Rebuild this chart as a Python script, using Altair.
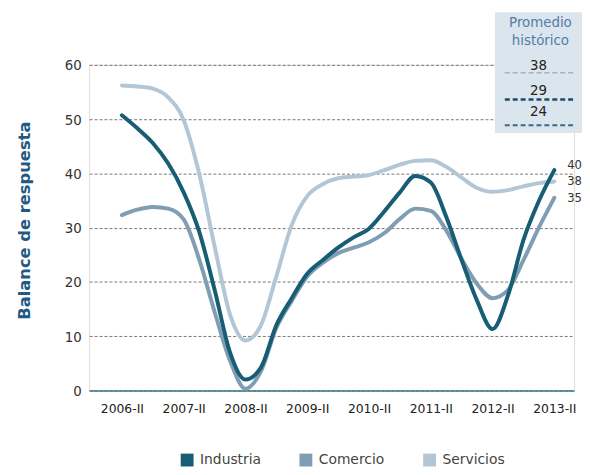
import altair as alt
import pandas as pd

# ---- data ----
series = ["Industria", "Comercio", "Servicios"]
colors = ["#175d73", "#7f9db3", "#b3c6d5"]

# time in years since 2006-II (quarterly steps), tick every year (semester II)
t_years = [0, 0.25, 0.5, 0.75, 1, 1.25, 1.5, 1.75, 2, 2.25, 2.5, 2.75, 3, 3.25, 3.5, 3.75,
           4, 4.25, 4.5, 4.75, 5, 5.25, 5.5, 5.75, 6, 6.25, 6.5, 6.75, 7]
tick_labels = ["2006-II", "2007-II", "2008-II", "2009-II", "2010-II", "2011-II", "2012-II", "2013-II"]

industria = [50.7, 48.3, 45.6, 41.8, 36.5, 29.3, 18.6, 7.0, 2.0, 4.2, 12.0, 17.0, 21.5, 24.0, 26.3, 28.2,
             29.8, 33.0, 36.5, 39.5, 38.3, 32.0, 24.0, 16.5, 11.3, 17.5, 27.7, 34.9, 40.6]
comercio = [32.3, 33.3, 33.8, 33.5, 31.5, 24.2, 14.5, 5.5, 0.3, 3.5, 11.5, 16.5, 21.0, 23.5, 25.3, 26.3,
            27.3, 29.0, 31.6, 33.5, 33.1, 29.5, 24.2, 19.6, 17.0, 18.5, 24.0, 30.0, 35.5]
servicios = [56.2, 56.0, 55.6, 54.0, 49.8, 40.0, 26.6, 14.0, 9.2, 12.0, 21.0, 30.5, 35.8, 38.0, 39.1, 39.4,
             39.7, 40.6, 41.6, 42.3, 42.4, 41.2, 39.2, 37.3, 36.6, 36.9, 37.6, 38.2, 38.5]

end_labels = {"Industria": 40, "Comercio": 35, "Servicios": 38}

avg_title = ["Promedio", "histórico"]
avg_series = ["Servicios", "Industria", "Comercio"]
avg_values = [38, 29, 24]

FONT_C = "DejaVu Sans Condensed, DejaVu Sans, sans-serif"
FONT = "DejaVu Sans, sans-serif"

rows = []
for name, vals in [("Servicios", servicios), ("Comercio", comercio), ("Industria", industria)]:
    for t, v in zip(t_years, vals):
        rows.append({"serie": name, "t": t, "v": v})
df = pd.DataFrame(rows)

end_df = pd.DataFrame([
    {"serie": s, "t": t_years[-1], "v": df[df.serie == s].v.iloc[-1], "label": str(end_labels[s])}
    for s in series
])

label_expr = "[" + ",".join("'" + l + "'" for l in tick_labels) + "][datum.value]"

color_scale = alt.Scale(domain=series, range=colors)

x_enc = alt.X("t:Q", scale=alt.Scale(domain=[-0.53, 7.32], nice=False, zero=False),
              axis=alt.Axis(values=list(range(len(tick_labels))), labelExpr=label_expr, title=None,
                            grid=False, ticks=False, domainColor="#3b7b8e", domainWidth=1.5,
                            labelPadding=12, labelFontSize=12.5, labelFont=FONT, labelColor="#222"))
y_enc = alt.Y("v:Q", scale=alt.Scale(domain=[0, 60], nice=False),
              axis=alt.Axis(values=[0, 10, 20, 30, 40, 50, 60], title="Balance de respuesta",
                            grid=True, gridDash=[3, 2], gridColor="#555", gridWidth=0.8,
                            domain=False, ticks=False, labelPadding=8, labelFontSize=15,
                            labelFont=FONT_C, labelColor="#333", titleFont=FONT,
                            titleFontSize=16.5, titleFontWeight="bold", titleColor="#1f5a85",
                            titlePadding=32, titleY=157))

lines = alt.Chart(df).mark_line(interpolate="monotone", strokeWidth=4, strokeCap="round").encode(
    x=x_enc,
    y=y_enc,
    color=alt.Color("serie:N", scale=color_scale,
                    legend=alt.Legend(title=None, orient="none", legendX=92, legendY=392,
                                      direction="horizontal", symbolType="square", symbolSize=42,
                                      symbolStrokeWidth=6.5, labelFontSize=14, labelFont=FONT,
                                      labelColor="#444", columnPadding=28, labelOffset=6)),
)

end_offsets = {"Industria": -5, "Servicios": 0, "Comercio": 0}
end_layers = [
    alt.Chart(end_df[end_df.serie == s]).mark_text(align="left", baseline="middle", dx=13,
                                                   dy=end_offsets[s], fontSize=13, font=FONT_C,
                                                   color="#333").encode(
        x="t:Q", y="v:Q", text="label:N")
    for s in series
]

avg_df = pd.DataFrame({"serie": avg_series, "v": avg_values})

box = alt.Chart(avg_df.head(1)).mark_rect(color="#dbe5ee").encode(
    x=alt.value(410), x2=alt.value(500), y=alt.value(-53), y2=alt.value(69))

title_layers = [
    alt.Chart(pd.DataFrame({"txt": [t]})).mark_text(fontSize=15, font=FONT_C, color="#4f7ea3",
                                                    baseline="middle").encode(
        text="txt:N", x=alt.value(456), y=alt.value(yy))
    for t, yy in zip(avg_title, [-43, -25])
]

dash_colors = {"Servicios": "#9fb3c4", "Industria": "#1a4d66", "Comercio": "#3f6a84"}
dash_widths = {"Servicios": 1.5, "Industria": 2.5, "Comercio": 2.0}
avg_layers = []
for i, (s, v) in enumerate(zip(avg_series, avg_values)):
    ty = [0, 26, 47][i]
    ly = [8, 35, 61][i]
    avg_layers.append(
        alt.Chart(pd.DataFrame({"v": [v]})).mark_text(fontSize=15, font=FONT_C, color="#222",
                                                      baseline="middle").encode(
            text="v:Q", x=alt.value(454), y=alt.value(ty)))
    avg_layers.append(
        alt.Chart(pd.DataFrame({"v": [v]})).mark_rule(strokeDash=[5, 3], color=dash_colors[s],
                                                      strokeWidth=dash_widths[s]).encode(
            x=alt.value(420), x2=alt.value(492), y=alt.value(ly)))

chart = alt.layer(lines, box, *title_layers, *avg_layers, *end_layers).properties(
    width=490, height=329,
    padding={"left": 82, "top": 55, "right": 8, "bottom": 75},
    autosize=alt.AutoSizeParams(type="none"),
).configure_view(stroke=None).configure(background="white")

chart.save("out.html", embed_options={"renderer": "svg", "actions": False})
